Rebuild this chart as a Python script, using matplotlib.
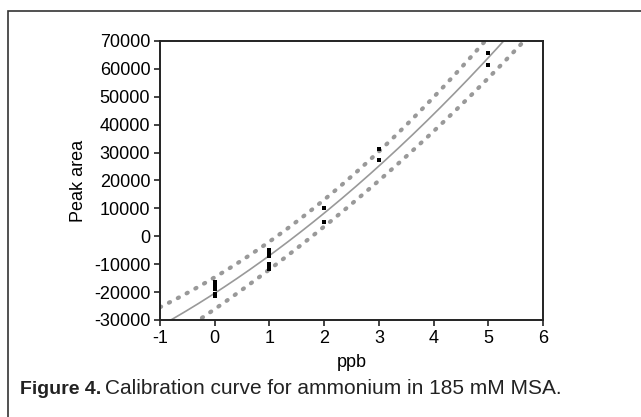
import numpy as np
import matplotlib.pyplot as plt
from matplotlib.patches import Rectangle

# measured points (ppb, peak area)
ppb = [0, 0, 0, 0, 0, 1, 1, 1, 1, 1, 1, 2, 2, 3, 3, 5, 5]
area = [-16300, -17500, -18800, -20600, -21300,
        -5000, -6000, -7100, -10100, -10900, -11700,
        10000, 5200, 31200, 27300, 65600, 61400]

# fitted quadratic (a*x^2 + b*x + c) and band half-width
fit_coef = [845, 12655, -20400]
band_min = 4800
band_center = 1.8
band_scale = 2.8

x_ticks = [-1, 0, 1, 2, 3, 4, 5, 6]
y_ticks = list(range(-30000, 70001, 10000))

plt.rcParams['font.family'] = ['Liberation Sans', 'DejaVu Sans']
plt.rcParams['axes.unicode_minus'] = False

fig = plt.figure(figsize=(6.41, 4.17), dpi=100)
ax = fig.add_axes([160 / 641, 1 - 320 / 417, 383 / 641, 279 / 417])

xs = np.linspace(-1, 6, 300)
fit = np.polyval(fit_coef, xs)
half = band_min * np.sqrt(1 + ((xs - band_center) / band_scale) ** 2)

ax.plot(xs, fit, color='#999999', lw=1.2)
ax.plot(xs, fit + half, color='#999999', lw=3, linestyle=(0, (0.3, 2.1)), dash_capstyle='round')
ax.plot(xs, fit - half, color='#999999', lw=3, linestyle=(0, (0.3, 2.1)), dash_capstyle='round')
ax.plot(ppb, area, 's', color='black', markersize=2.2, markeredgewidth=0)

ax.set_xlim(-1, 6)
ax.set_ylim(-30000, 70000)
ax.set_xticks(x_ticks)
ax.set_yticks(y_ticks)
ax.tick_params(direction='out', length=4, width=1.2, labelsize=13, pad=3, color='#222222')
for s in ax.spines.values():
    s.set_linewidth(1.4)
    s.set_color('#222222')

ax.set_xlabel('ppb', fontsize=13, labelpad=5)
ax.set_ylabel('Peak area', fontsize=13, labelpad=5)

# outer frame
fig.patches.append(Rectangle((8 / 641, -0.1), 1.2, 1 - 11 / 417 + 0.1, transform=fig.transFigure,
                             fill=False, edgecolor='#333333', lw=1.2))

cap_y = 1 - 389 / 417
t1 = fig.text(20 / 641, cap_y, 'Figure 4.', fontsize=14, fontweight='bold',
              va='center', color='#222222')
fig.canvas.draw()
bb = t1.get_window_extent()
fig.text((bb.x1 + 4) / 641, cap_y, 'Calibration curve for ammonium in 185 mM MSA.', fontsize=15,
         va='center', color='#222222')

fig.savefig('out.png', dpi=100)
